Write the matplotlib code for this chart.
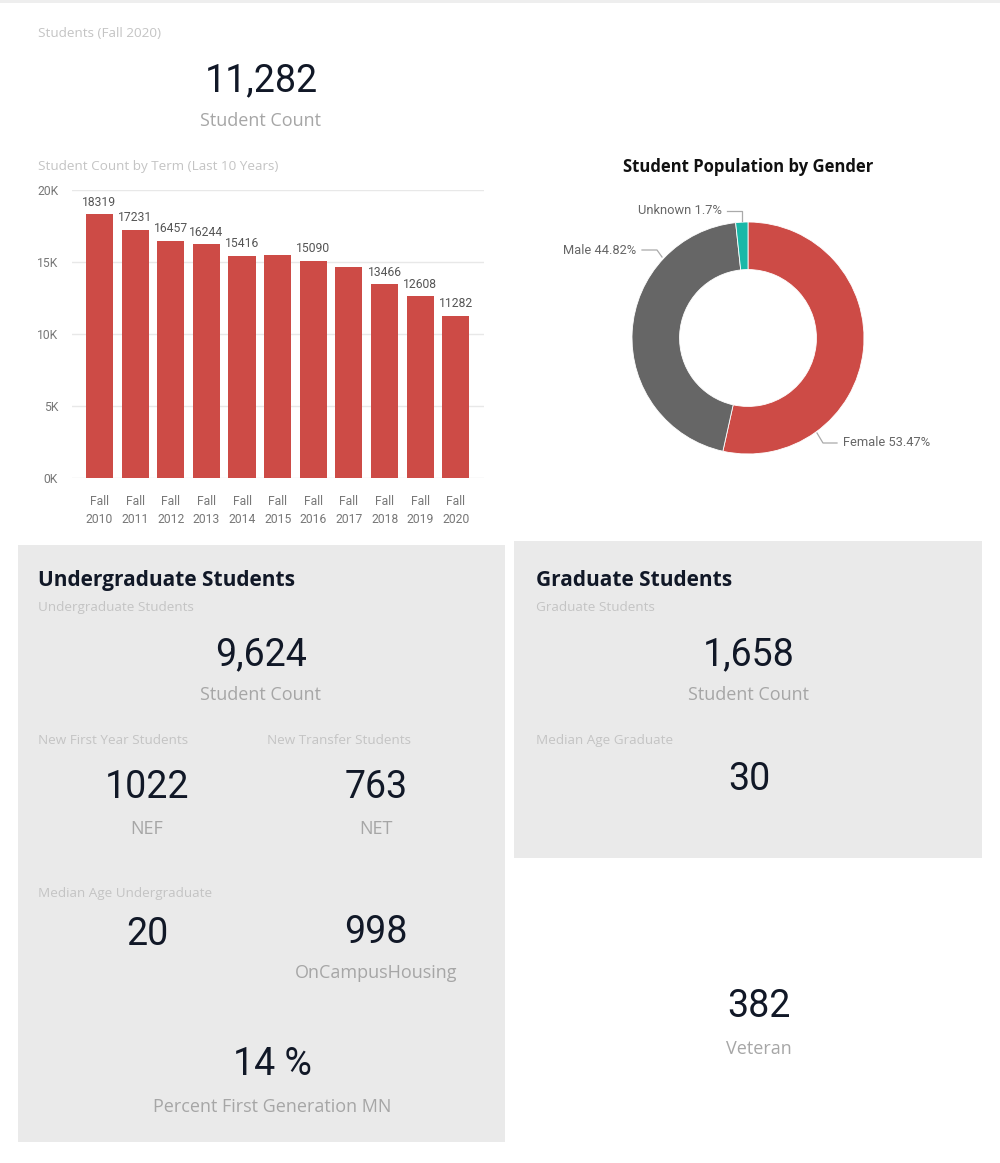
import numpy as np
import matplotlib.pyplot as plt
from matplotlib.patches import Rectangle

# ---- data ----
terms = ['Fall\n2010', 'Fall\n2011', 'Fall\n2012', 'Fall\n2013', 'Fall\n2014', 'Fall\n2015',
         'Fall\n2016', 'Fall\n2017', 'Fall\n2018', 'Fall\n2019', 'Fall\n2020']
counts = [18319, 17231, 16457, 16244, 15416, 15460, 15090, 14630, 13466, 12608, 11282]
label_shown = [True, True, True, True, True, False, True, False, True, True, True]
yticks = [0, 5000, 10000, 15000, 20000]
ytick_labels = ['0K', '5K', '10K', '15K', '20K']

genders = ['Female', 'Male', 'Unknown']
gender_pct = [53.47, 44.82, 1.70]
gender_pct_text = ['53.47%', '44.82%', '1.7%']

total_students = '11,282'
ug_count = '9,624'
ug_nef = '1022'
ug_net = '763'
ug_median_age = '20'
ug_housing = '998'
ug_first_gen = '14 %'
grad_count = '1,658'
grad_median_age = '30'
veteran = '382'

# ---- styles ----
RED = '#CD4B46'
GREY = '#666666'
TEAL = '#1AB8A8'
DARK = '#111827'
MID = '#A6A6A6'
LIGHT = '#C4C4C4'
PANEL = '#EAEAEA'
NUM_FONT = 'Roboto'
TXT_FONT = 'Open Sans'

W, H = 1000, 1163
fig = plt.figure(figsize=(10, 11.63), dpi=100, facecolor='white')


def fx(x):
    return x / W


def fy(y):
    return 1 - y / H


def txt(x, y, s, size, color, ha='left', family=TXT_FONT, weight='normal'):
    # small downward nudge so visual centres line up with the reference
    fig.text(fx(x), fy(y + 2.5), s, fontsize=size, color=color, ha=ha, va='center',
             family=family, fontweight=weight)


def big(x, y, s):
    txt(x, y, s, 27, DARK, ha='center', family=NUM_FONT)


# panels
fig.patches.append(Rectangle((fx(18), fy(1142)), fx(505 - 18), (1142 - 545) / H,
                             transform=fig.transFigure, facecolor=PANEL, edgecolor='none', zorder=0))
fig.patches.append(Rectangle((fx(514), fy(858)), fx(982 - 514), (858 - 541) / H,
                             transform=fig.transFigure, facecolor=PANEL, edgecolor='none', zorder=0))
fig.patches.append(Rectangle((0, fy(3)), 1, 3 / H, transform=fig.transFigure,
                             facecolor='#EEEEEE', edgecolor='none', zorder=0))

# top KPI
txt(38, 31, 'Students (Fall 2020)', 9.7, LIGHT)
big(261, 78, total_students)
txt(261, 119, 'Student Count', 13, MID, ha='center')

# ---- bar chart ----
txt(38, 164, 'Student Count by Term (Last 10 Years)', 9.7, LIGHT)
ax = fig.add_axes([fx(72), fy(478), 412 / W, 288 / H])
x = np.arange(len(counts))
ax.bar(x, counts, width=0.76, color=RED, zorder=2)
for xi, v, show in zip(x, counts, label_shown):
    if show:
        ax.annotate(str(v), (xi, v), xytext=(0, 4), textcoords='offset points',
                    ha='center', va='bottom', fontsize=8.7, color='#555555',
                    family=NUM_FONT, annotation_clip=False)
ax.set_xlim(-0.77, 10.79)
ax.set_ylim(0, 20000)
ax.set_yticks(yticks)
ax.set_yticklabels(ytick_labels)
ax.set_xticks(x)
ax.set_xticklabels(terms, linespacing=1.5)
ax.grid(axis='y', color='#E8E8E8', lw=1, zorder=0)
for s in ax.spines.values():
    s.set_visible(False)
ax.tick_params(length=0, labelsize=8.7, colors='#777777', pad=12)
for lab in ax.get_xticklabels() + ax.get_yticklabels():
    lab.set_family(NUM_FONT)
ax.tick_params(axis='y', pad=10)

# ---- donut ----
txt(748, 165, 'Student Population by Gender', 12, '#111111', ha='center', weight='bold')
R = 116
dax = fig.add_axes([fx(748 - 150), fy(338 + 150), 300 / W, 300 / H])
dax.pie(gender_pct, colors=[RED, GREY, TEAL], startangle=90, counterclock=False,
        radius=R, wedgeprops=dict(width=R * 0.41, edgecolor='white', linewidth=0.6))
dax.set_xlim(-150, 150)
dax.set_ylim(-150, 150)
dax.set_aspect('equal')
dax.axis('off')

# leader lines: (points relative to centre, text anchor, ha)
leaders = [
    ([(69, -95), (75, -105), (89, -105)], (95, -105), 'left'),
    ([(-86, 81), (-91, 88), (-106, 88)], (-112, 88), 'right'),
    ([(-6, 117), (-6, 127), (-21, 127)], (-26, 127), 'right'),
]
for (pts, tpos, ha), g, p in zip(leaders, genders, gender_pct_text):
    xs, ys = zip(*pts)
    dax.plot(xs, ys, color='#AAAAAA', lw=0.9, clip_on=False)
    dax.text(tpos[0], tpos[1], f'{g} {p}', ha=ha, va='center', fontsize=9.3,
             color='#666666', family=NUM_FONT, clip_on=False)

# ---- undergraduate panel ----
txt(38, 578, 'Undergraduate Students', 15, DARK, weight='bold')
txt(38, 605, 'Undergraduate Students', 9.7, LIGHT)
big(261, 652, ug_count)
txt(261, 693, 'Student Count', 13, MID, ha='center')
txt(38, 738, 'New First Year Students', 9.7, LIGHT)
txt(267, 738, 'New Transfer Students', 9.7, LIGHT)
big(147, 785, ug_nef)
txt(147, 826, 'NEF', 13, MID, ha='center')
big(376, 785, ug_net)
txt(376, 826, 'NET', 13, MID, ha='center')
txt(38, 891, 'Median Age Undergraduate', 9.7, LIGHT)
big(147, 932, ug_median_age)
big(376, 930, ug_housing)
txt(376, 971, 'OnCampusHousing', 13, MID, ha='center')
big(272, 1062, ug_first_gen)
txt(272, 1104, 'Percent First Generation MN', 13, MID, ha='center')

# ---- graduate panel ----
txt(536, 578, 'Graduate Students', 15, DARK, weight='bold')
txt(536, 605, 'Graduate Students', 9.7, LIGHT)
big(749, 652, grad_count)
txt(749, 693, 'Student Count', 13, MID, ha='center')
txt(536, 738, 'Median Age Graduate', 9.7, LIGHT)
big(749, 777, grad_median_age)

# ---- veteran ----
big(759, 1004, veteran)
txt(759, 1046, 'Veteran', 13, MID, ha='center')

fig.savefig('out.png', dpi=100, facecolor='white')
